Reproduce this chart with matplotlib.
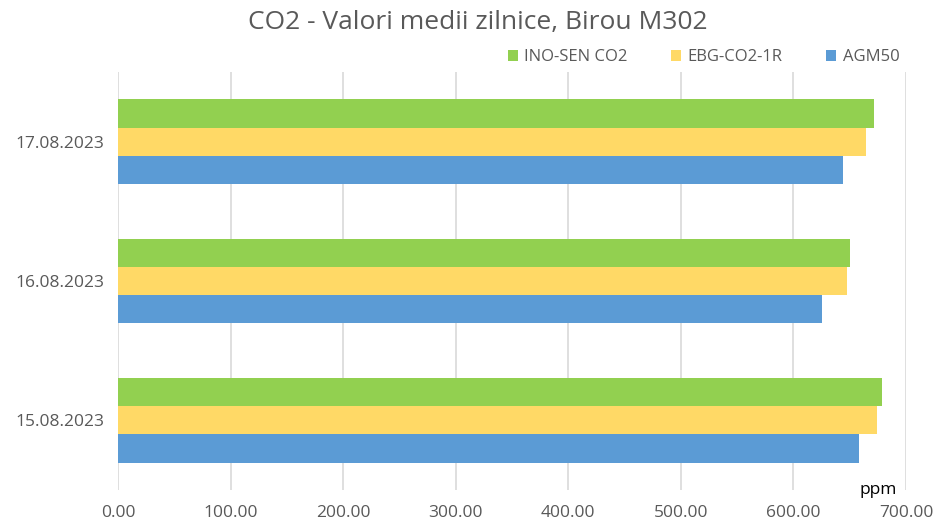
import numpy as np
import matplotlib.pyplot as plt

# daily averages [ppm]
dates = ['15.08.2023', '16.08.2023', '17.08.2023']
agm50 = [657.8, 625.8, 643.9]
ebg = [674.4, 647.5, 664.4]
ino = [679.1, 650.1, 671.7]

plt.rcParams['font.family'] = ['Open Sans', 'DejaVu Sans']
grey = '#595959'

fig = plt.figure(figsize=(9.35, 5.24), dpi=100)
ax = fig.add_axes([0.1262, 0.0649, 0.8428, 0.7977])

y = np.arange(len(dates))
h = 0.203
ax.barh(y - h, agm50, h, color='#5B9BD5', label='AGM50', zorder=3)
ax.barh(y, ebg, h, color='#FFD966', label='EBG-CO2-1R', zorder=3)
ax.barh(y + h, ino, h, color='#92D050', label='INO-SEN CO2', zorder=3)

ax.set_xlim(0, 700)
ax.set_ylim(-0.5, 2.5)
ax.set_xticks(np.arange(0, 701, 100))
ax.set_xticklabels(['%.2f' % v for v in np.arange(0, 701, 100)])
ax.set_yticks(y)
ax.set_yticklabels(dates)
ax.grid(axis='x', color='#D9D9D9', linewidth=1.2, zorder=0)
for s in ax.spines.values():
    s.set_visible(False)
ax.tick_params(axis='both', length=0, colors=grey, labelsize=12.5)
ax.tick_params(axis='x', pad=11)
ax.tick_params(axis='y', pad=10)

ax.text(0.965, 0.0, 'ppm', transform=ax.transAxes, ha='center', va='center',
        fontsize=12.5, color='black')

fig.text(0.511, 0.957, 'CO2 - Valori medii zilnice, Birou M302', ha='center',
         va='center', fontsize=19, color=grey)

handles, labels = ax.get_legend_handles_labels()
leg = ax.legend(handles[::-1], labels[::-1], loc='lower right',
                bbox_to_anchor=(1.0, 1.0), ncol=3, frameon=False,
                fontsize=12, handlelength=0.6, handleheight=0.6,
                columnspacing=2.6, handletextpad=0.4, borderaxespad=0.0)
for t in leg.get_texts():
    t.set_color(grey)

fig.savefig('out.png', dpi=100)
